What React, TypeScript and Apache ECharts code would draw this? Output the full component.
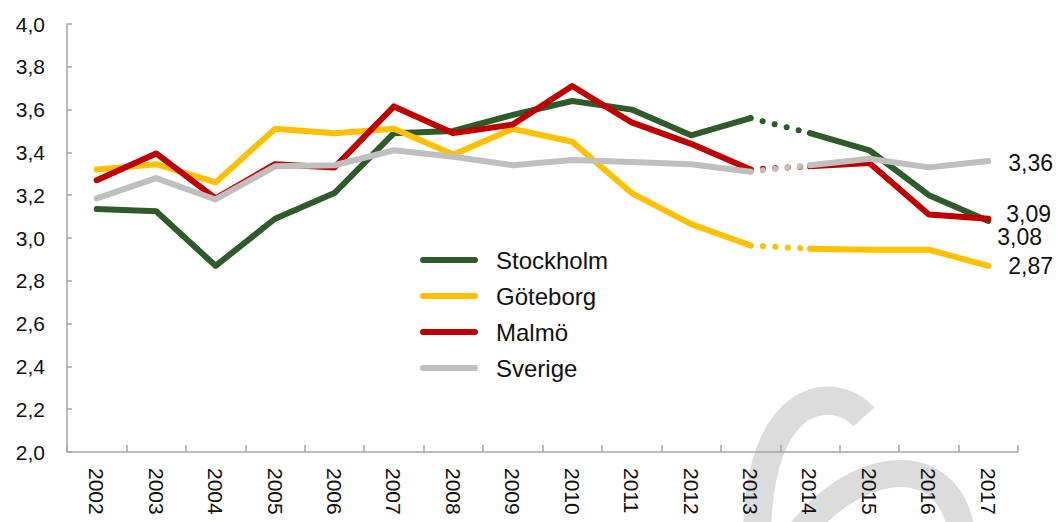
import React, { useEffect, useRef } from "react";
import * as echarts from "echarts";

const years = ["2002", "2003", "2004", "2005", "2006", "2007", "2008", "2009", "2010", "2011", "2012", "2013", "2014", "2015", "2016", "2017"];
const stockholm = [3.135, 3.125, 2.87, 3.09, 3.21, 3.49, 3.5, 3.575, 3.64, 3.6, 3.48, 3.56, 3.49, 3.41, 3.2, 3.08];
const goteborg = [3.32, 3.345, 3.26, 3.51, 3.49, 3.51, 3.39, 3.51, 3.45, 3.21, 3.065, 2.965, 2.95, 2.945, 2.945, 2.87];
const malmo = [3.27, 3.395, 3.185, 3.345, 3.33, 3.615, 3.49, 3.53, 3.71, 3.54, 3.44, 3.32, 3.335, 3.35, 3.11, 3.09];
const sverige = [3.185, 3.28, 3.18, 3.335, 3.34, 3.41, 3.38, 3.34, 3.365, 3.355, 3.345, 3.31, 3.34, 3.37, 3.33, 3.36];
const seriesNames = ["Stockholm", "Göteborg", "Malmö", "Sverige"];
const seriesColors = ["#2e5b29", "#ffc000", "#c00000", "#bfbfbf"];
const yMin = 2.0;
const yMax = 4.0;
const yStep = 0.2;
const breakIndex = 11; // last index of the first solid segment (2013)

const FONT = "Liberation Sans, Arial, sans-serif";
const fmt = (v: number, d: number) => v.toFixed(d).replace(".", ",");

function buildSeries(name: string, values: number[], color: string, labelOffset: number[], z: number) {
  const seg1 = values.map((v, i) => (i <= breakIndex ? v : null));
  const seg2 = values.map((v, i) => (i > breakIndex ? v : null));
  const dots = values.map((v, i) => (i === breakIndex || i === breakIndex + 1 ? v : null));
  const common = {
    type: "line",
    showSymbol: false,
    symbol: "none",
    silent: true,
    itemStyle: { color },
    z,
  };
  return [
    {
      ...common,
      name,
      data: seg1,
      lineStyle: { color, width: 6, cap: "round", join: "round" },
    },
    {
      ...common,
      name: name + " 2014-2017",
      data: seg2,
      lineStyle: { color, width: 6, cap: "round", join: "round" },
      endLabel: {
        show: true,
        formatter: (p: any) => fmt(Number(p.value), 2),
        distance: 20,
        offset: labelOffset,
        fontSize: 23,
        color: "#111",
        fontFamily: FONT,
      },
    },
    {
      ...common,
      name: name + " prognos",
      data: dots,
      lineStyle: { color, width: 6, cap: "round", type: [0.1, 12.3] },
    },
  ];
}

export default function App() {
  const ref = useRef<HTMLDivElement>(null);
  useEffect(() => {
    const chart = echarts.init(ref.current!, null, { renderer: "svg" });
    const valuesList = [stockholm, goteborg, malmo, sverige];
    const offsets = [[-11, 16], [0, 0], [-2, -5], [0, 2]];
    const series: any[] = [];
    seriesNames.forEach((n, i) => {
      series.push(...buildSeries(n, valuesList[i], seriesColors[i], offsets[i], 2 + i));
    });
    const option: any = {
      animation: false,
      backgroundColor: "#ffffff",
      textStyle: { fontFamily: FONT },
      grid: { left: 67, right: 41, top: 24, bottom: 70, containLabel: false },
      legend: {
        data: seriesNames,
        orient: "vertical",
        left: 415,
        top: 243,
        itemWidth: 58,
        itemHeight: 6,
        itemGap: 12,
        icon: "path://M3,0L55,0A3,3,0,0,1,55,6L3,6A3,3,0,0,1,3,0Z",
        selectedMode: false,
        textStyle: { fontSize: 24, lineHeight: 24, color: "#111", fontFamily: FONT, padding: [0, 0, 0, 13] },
      },
      xAxis: {
        type: "category",
        data: years,
        boundaryGap: true,
        axisLine: { show: true, lineStyle: { color: "#a6a6a6", width: 1.5 } },
        axisTick: { show: true, inside: true, length: 7, lineStyle: { color: "#a6a6a6", width: 1.5 } },
        axisLabel: { rotate: -90, margin: 16, fontSize: 21, color: "#111", fontFamily: FONT, interval: 0 },
        splitLine: { show: false },
      },
      yAxis: {
        type: "value",
        min: yMin,
        max: yMax,
        interval: yStep,
        axisLine: { show: true, lineStyle: { color: "#a6a6a6", width: 1.5 } },
        axisTick: { show: true, inside: true, length: 5, lineStyle: { color: "#a6a6a6", width: 1.5 } },
        axisLabel: { margin: 22, fontSize: 21, color: "#111", fontFamily: FONT, formatter: (v: number) => fmt(v, 1) },
        splitLine: { show: false },
      },
      graphic: [
        {
          type: "bezierCurve",
          silent: true,
          z: -10,
          shape: { x1: 864, y1: 417, cpx1: 834, cpy1: 384, cpx2: 757, cpy2: 390, x2: 757, y2: 540 },
          style: { stroke: "#dcdcdc", lineWidth: 28, fill: null },
        },
        {
          type: "bezierCurve",
          silent: true,
          z: -10,
          shape: { x1: 795, y1: 540, cpx1: 850, cpy1: 460, cpx2: 950, cpy2: 445, x2: 962, y2: 535 },
          style: { stroke: "#dcdcdc", lineWidth: 27, fill: null },
        },
      ],
      series,
    };
    chart.setOption(option);
    return () => chart.dispose();
  }, []);
  return <div ref={ref} style={{ position: "absolute", left: 0, top: 0, width: 1059, height: 522 }} />;
}
